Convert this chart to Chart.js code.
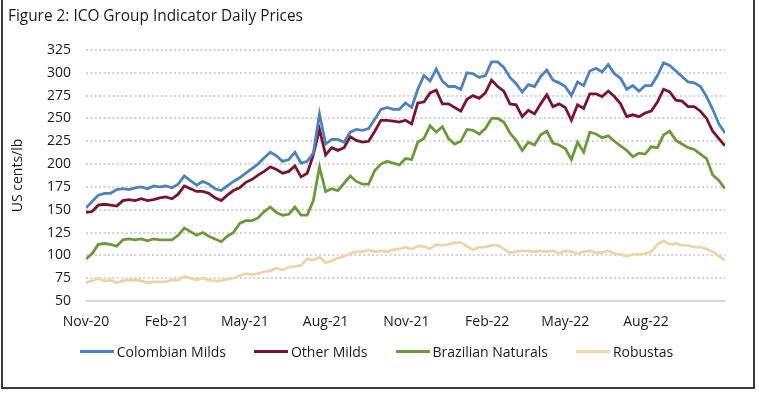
<!DOCTYPE html>
<html>
<head>
<meta charset="utf-8">
<script src="https://cdn.jsdelivr.net/npm/chart.js@4.4.0/dist/chart.umd.min.js"></script>
<style>
  html, body { margin: 0; padding: 0; background: #fff; }
  #wrap { position: relative; width: 759px; height: 393px; overflow: hidden; }
  #frame { position: absolute; left: 1px; top: -2px; width: 754px; height: 391px; box-sizing: border-box; border: 2px solid #3c3c3c; pointer-events: none; }
  #title { position: absolute; left: 8px; top: 5px; font: 15.4px "Open Sans", sans-serif; color: #1a1a1a; }
  canvas { position: absolute; left: 0; top: 0; }
  #legend { position: absolute; left: 0; width: 753px; top: 342px; display: flex; justify-content: center; gap: 28px;
            font: 14px "Open Sans", sans-serif; color: #1a1a1a; }
  #legend .item { display: flex; align-items: center; white-space: nowrap; }
  #legend .swatch { width: 34px; height: 3px; margin-right: 3px; }
</style>
</head>
<body>
<div id="wrap">
  <canvas id="chart" width="759" height="393"></canvas>
  <div id="title">Figure 2: ICO Group Indicator Daily Prices</div>
  <div id="legend"></div>
  <div id="frame"></div>
</div>
<script>
// weekly readings, first week starting 1 Nov 2020
const startDate = '2020-11-01';
const daysPerStep = 7;

const colombianMilds = [
  152, 159, 166, 168, 168, 172, 173, 172, 174, 175, 173, 176, 175, 176, 174, 178, 187, 182, 177, 181,
  178, 173, 171, 176, 181, 185, 190, 195, 200, 207, 213, 209, 203, 205, 213, 201, 203, 212, 255, 222,
  227, 227, 224, 235, 238, 237, 239, 249, 260, 262, 260, 260, 267, 262, 282, 297, 291, 304, 291, 285,
  285, 282, 300, 299, 295, 297, 312, 312, 306, 295, 288, 279, 287, 285, 296, 303, 292, 289, 285, 275,
  290, 286, 302, 305, 301, 309, 299, 294, 282, 286, 280, 286, 286, 297, 311, 308, 302, 296, 290, 289,
  285, 274, 260, 244, 234
];
const otherMilds = [
  147, 148, 155, 156, 155, 154, 160, 161, 160, 162, 160, 161, 163, 164, 162, 167, 176, 173, 170, 170,
  168, 163, 160, 166, 171, 174, 180, 183, 188, 192, 197, 194, 190, 192, 198, 186, 190, 210, 238, 210,
  218, 215, 218, 230, 226, 224, 225, 236, 248, 248, 247, 246, 248, 244, 267, 268, 278, 281, 266, 266,
  262, 258, 271, 275, 272, 278, 292, 285, 280, 266, 265, 252, 259, 255, 266, 276, 263, 266, 262, 248,
  265, 261, 277, 277, 274, 280, 274, 266, 252, 254, 252, 256, 258, 268, 282, 279, 270, 269, 263, 263,
  258, 250, 236, 228, 220
];
const brazilianNaturals = [
  96, 102, 112, 113, 112, 110, 117, 118, 117, 118, 116, 118, 117, 117, 117, 122, 130, 126, 122, 125,
  121, 118, 115, 121, 125, 135, 138, 138, 141, 148, 153, 147, 144, 145, 153, 144, 144, 160, 197, 170,
  173, 171, 179, 187, 181, 178, 178, 193, 200, 203, 201, 199, 206, 205, 224, 228, 242, 235, 241, 228,
  222, 225, 238, 237, 233, 239, 250, 250, 246, 234, 226, 215, 224, 221, 232, 236, 223, 221, 217, 205,
  224, 213, 235, 233, 229, 231, 225, 220, 215, 208, 212, 211, 219, 218, 232, 236, 226, 222, 218, 216,
  211, 206, 188, 182, 173
];
const robustas = [
  70, 72, 75, 72, 73, 70, 72, 73, 73, 72, 70, 71, 71, 71, 73, 73, 77, 75, 73, 75,
  73, 72, 72, 74, 75, 78, 80, 79, 80, 82, 83, 86, 84, 87, 88, 89, 96, 95, 98, 92,
  94, 97, 99, 102, 104, 104, 106, 104, 105, 104, 106, 107, 109, 107, 110, 110, 107, 112, 111, 112,
  114, 114, 110, 106, 109, 109, 111, 111, 107, 103, 104, 105, 105, 104, 105, 104, 105, 102, 105, 104,
  102, 104, 105, 103, 103, 105, 102, 101, 99, 101, 101, 102, 104, 112, 116, 112, 113, 111, 111, 109,
  109, 107, 104, 99, 95
];

const tickLabels = ['Nov-20', 'Feb-21', 'May-21', 'Aug-21', 'Nov-21', 'Feb-22', 'May-22', 'Aug-22'];
const tickDates = ['2020-11-01', '2021-02-01', '2021-05-01', '2021-08-01', '2021-11-01', '2022-02-01', '2022-05-01', '2022-08-01'];

const seriesNames = ['Colombian Milds', 'Other Milds', 'Brazilian Naturals', 'Robustas'];
const seriesColors = ['#4f81bd', '#781430', '#6b9a3a', '#ecd6a6'];

const DAY = 86400000;
function dayOffset(d) {
    return Math.round((new Date(d) - new Date(startDate)) / DAY);
}
const tickDays = tickDates.map(dayOffset);

function toPoints(values) {
    return values.map((v, i) => ({ x: i * daysPerStep, y: v }));
}

const allSeries = [colombianMilds, otherMilds, brazilianNaturals, robustas];
const lastDay = (colombianMilds.length - 1) * daysPerStep;

const font = { family: '"Open Sans", sans-serif', size: 14 };
const textColor = '#1a1a1a';

// legend built as html so spacing matches the original
const legendEl = document.getElementById('legend');
seriesNames.forEach((name, i) => {
    const item = document.createElement('div');
    item.className = 'item';
    item.innerHTML = `<span class="swatch" style="background:${seriesColors[i]}"></span>${name}`;
    legendEl.appendChild(item);
});

new Chart(document.getElementById('chart'), {
    type: 'line',
    data: {
        datasets: allSeries.map((vals, i) => ({
            label: seriesNames[i],
            data: toPoints(vals),
            borderColor: seriesColors[i],
            backgroundColor: seriesColors[i],
            borderWidth: 2.8,
            pointRadius: 0,
            tension: 0,
            order: i
        }))
    },
    options: {
        responsive: false,
        animation: false,
        layout: { padding: { left: 10, right: 34, top: 50, bottom: 60 } },
        plugins: {
            tooltip: { enabled: false },
            legend: { display: false }
        },
        scales: {
            x: {
                type: 'linear',
                min: 0,
                max: lastDay,
                afterFit: s => { s.height = 32; },
                afterBuildTicks: axis => { axis.ticks = tickDays.map(v => ({ value: v })); },
                grid: { display: false, drawTicks: false },
                border: { display: true, color: '#d9d9d9', width: 2 },
                ticks: {
                    autoSkip: false,
                    maxRotation: 0,
                    padding: 13,
                    font: font,
                    color: textColor,
                    callback: (v, i) => tickLabels[i]
                }
            },
            y: {
                min: 50,
                max: 325,
                afterFit: s => { s.width = 76; },
                title: { display: true, text: 'US cents/lb', font: font, color: textColor, padding: 0 },
                grid: {
                    drawTicks: false,
                    lineWidth: 2,
                    color: ctx => ctx.tick && ctx.tick.value === 50 ? 'rgba(0,0,0,0)' : '#d3d3d3'
                },
                border: { display: false, dash: [2, 2.4] },
                ticks: { stepSize: 25, padding: 15, font: font, color: textColor }
            }
        }
    }
});
</script>
</body>
</html>
